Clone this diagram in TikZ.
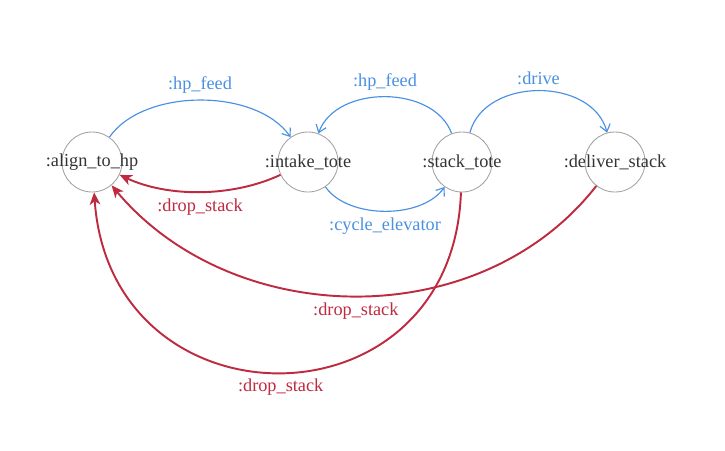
\documentclass[tikz,border=0pt]{standalone}
\usepackage{fontspec}
\setmainfont{Liberation Serif}
\usetikzlibrary{arrows.meta,positioning}

\definecolor{feedblue}{HTML}{4A90E2}
\definecolor{dropred}{HTML}{BE2A40}
\definecolor{statetext}{HTML}{333333}
\definecolor{stateline}{HTML}{A3A3A3}

\tikzset{
	state/.style={circle, draw=stateline, line width=0.5pt, minimum size=1.2cm, inner sep=0pt},
	statename/.style={text=statetext, font=\fontsize{10.4}{12}\selectfont, inner sep=0pt},
	go/.style={draw=feedblue, line width=0.65pt, -{Straight Barb[length=4pt,width=6pt]}},
	golabel/.style={text=feedblue, font=\fontsize{10.4}{12}\selectfont},
	back/.style={draw=dropred, line width=1.1pt, -{Stealth[length=7pt,width=6pt,inset=2pt]}},
	backlabel/.style={text=dropred, font=\fontsize{10.4}{12}\selectfont},
}

\begin{document}
\begin{tikzpicture}
	\useasboundingbox (0, 0) rectangle (14.5, -9);

	% States:
	\node[state, label={[statename]center:{:align\_to\_hp}}] (align) at (1.84, -3.24) {};
	\node[state, label={[statename]center:{:intake\_tote}}] (intake) at (6.16, -3.24) {};
	\node[state, label={[statename]center:{:stack\_tote}}] (stack) at (9.24, -3.24) {};
	\node[state, label={[statename]center:{:deliver\_stack}}] (deliver) at (12.3, -3.24) {};

	% Forward transitions:
	\draw[go] (align) to[out=55, in=125, looseness=0.85] node[above, golabel] {:hp\_feed} (intake);
	\draw[go] (stack) to[out=110, in=70] node[above, golabel] {:hp\_feed} (intake);
	\draw[go] (stack) to[out=75, in=105, looseness=1.08] node[above, golabel] {:drive} (deliver);
	\draw[go] (intake) to[out=-55, in=-125, looseness=0.85] node[below, golabel] {:cycle\_elevator} (stack);

	% Drop stack:
	\draw[back] (intake) to[out=205, in=-25, looseness=0.85] node[below, backlabel] {:drop\_stack} (align);
	\draw[back] (deliver) to[out=232, in=-50] node[below, backlabel] {:drop\_stack} (align);
	\draw[back] (stack) to[out=-92, in=-86, looseness=1.68] node[below, backlabel] {:drop\_stack} (align);

\end{tikzpicture}
\end{document}
